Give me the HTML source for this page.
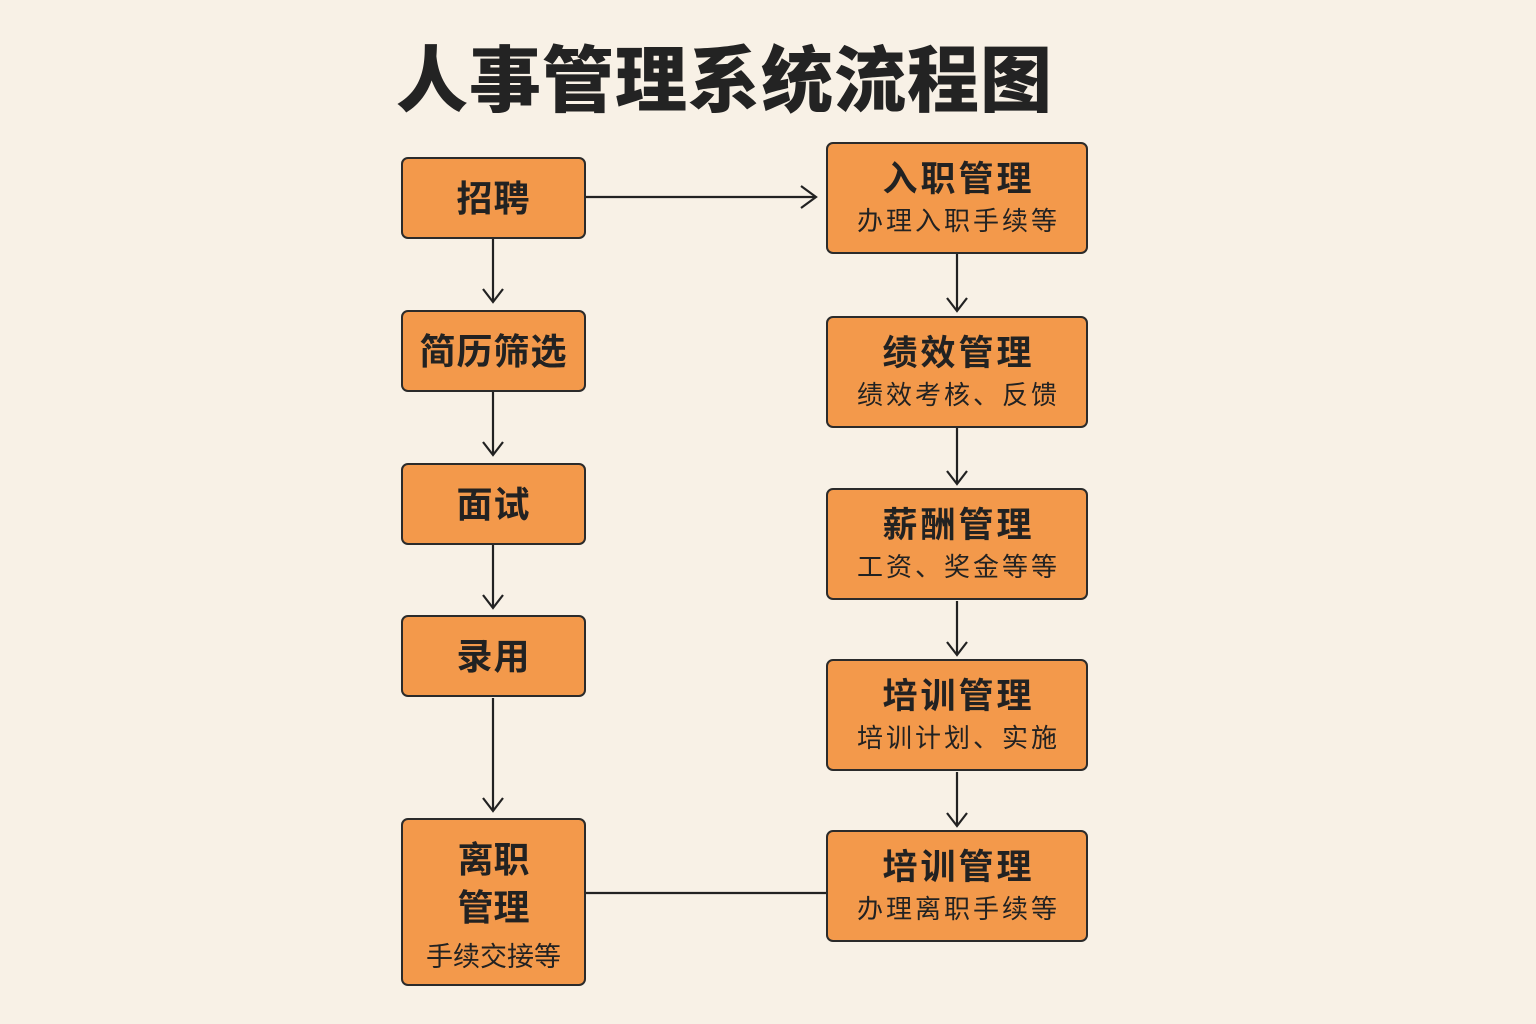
<!DOCTYPE html>
<html><head><meta charset="utf-8"><style>
html,body{margin:0;padding:0;}
body{width:1536px;height:1024px;background:#f8f1e6;position:relative;overflow:hidden;font-family:"Liberation Sans","Noto Sans CJK SC","WenQuanYi Zen Hei",sans-serif;color:#222;}
.t{position:absolute;left:396px;top:34px;font-size:72px;font-weight:900;letter-spacing:1px;white-space:nowrap;line-height:96px;color:#232323;}
.b{position:absolute;background:#f3994b;border:2px solid #2b2b2b;border-radius:7px;box-sizing:border-box;text-align:center;}
.l{left:401px;width:185px;height:82px;font-size:36px;font-weight:bold;line-height:80px;letter-spacing:1px;}
.r{left:826px;width:262px;height:112px;}
.r .h{font-size:35px;font-weight:bold;line-height:40px;margin-top:16px;letter-spacing:3px;padding-left:3px;}
.r .s{font-size:26px;line-height:34px;margin-top:4px;letter-spacing:3px;padding-left:3px;white-space:nowrap;}
svg{position:absolute;left:0;top:0;}
</style></head><body>
<div class="t">人事管理系统流程图</div>
<svg width="1536" height="1024">
<g stroke="#222" stroke-width="2.2" fill="none">
<line x1="586" y1="197" x2="816" y2="197"/><polyline points="801,186 816,197 801,208"/>
<line x1="493" y1="239" x2="493" y2="302"/><polyline points="483,289 493,302 503,289"/>
<line x1="493" y1="392" x2="493" y2="455"/><polyline points="483,442 493,455 503,442"/>
<line x1="493" y1="545" x2="493" y2="608"/><polyline points="483,595 493,608 503,595"/>
<line x1="493" y1="698" x2="493" y2="811"/><polyline points="483,798 493,811 503,798"/>
<line x1="957" y1="254" x2="957" y2="311"/><polyline points="947,298 957,311 967,298"/>
<line x1="957" y1="428" x2="957" y2="484"/><polyline points="947,471 957,484 967,471"/>
<line x1="957" y1="601" x2="957" y2="655"/><polyline points="947,642 957,655 967,642"/>
<line x1="957" y1="772" x2="957" y2="826"/><polyline points="947,813 957,826 967,813"/>
<line x1="586" y1="893" x2="826" y2="893"/>
</g></svg>
<div class="b l" style="top:157px">招聘</div>
<div class="b l" style="top:310px">简历筛选</div>
<div class="b l" style="top:463px">面试</div>
<div class="b l" style="top:615px">录用</div>
<div class="b" style="left:401px;top:818px;width:185px;height:168px;">
<div style="font-size:36px;font-weight:bold;line-height:48px;margin-top:16px;">离职<br>管理</div>
<div style="font-size:27px;line-height:34px;margin-top:8px;">手续交接等</div></div>
<div class="b r" style="top:142px"><div class="h">入职管理</div><div class="s">办理入职手续等</div></div>
<div class="b r" style="top:316px"><div class="h">绩效管理</div><div class="s">绩效考核、反馈</div></div>
<div class="b r" style="top:488px"><div class="h">薪酬管理</div><div class="s">工资、奖金等等</div></div>
<div class="b r" style="top:659px"><div class="h">培训管理</div><div class="s">培训计划、实施</div></div>
<div class="b r" style="top:830px"><div class="h">培训管理</div><div class="s">办理离职手续等</div></div>
</body></html>
